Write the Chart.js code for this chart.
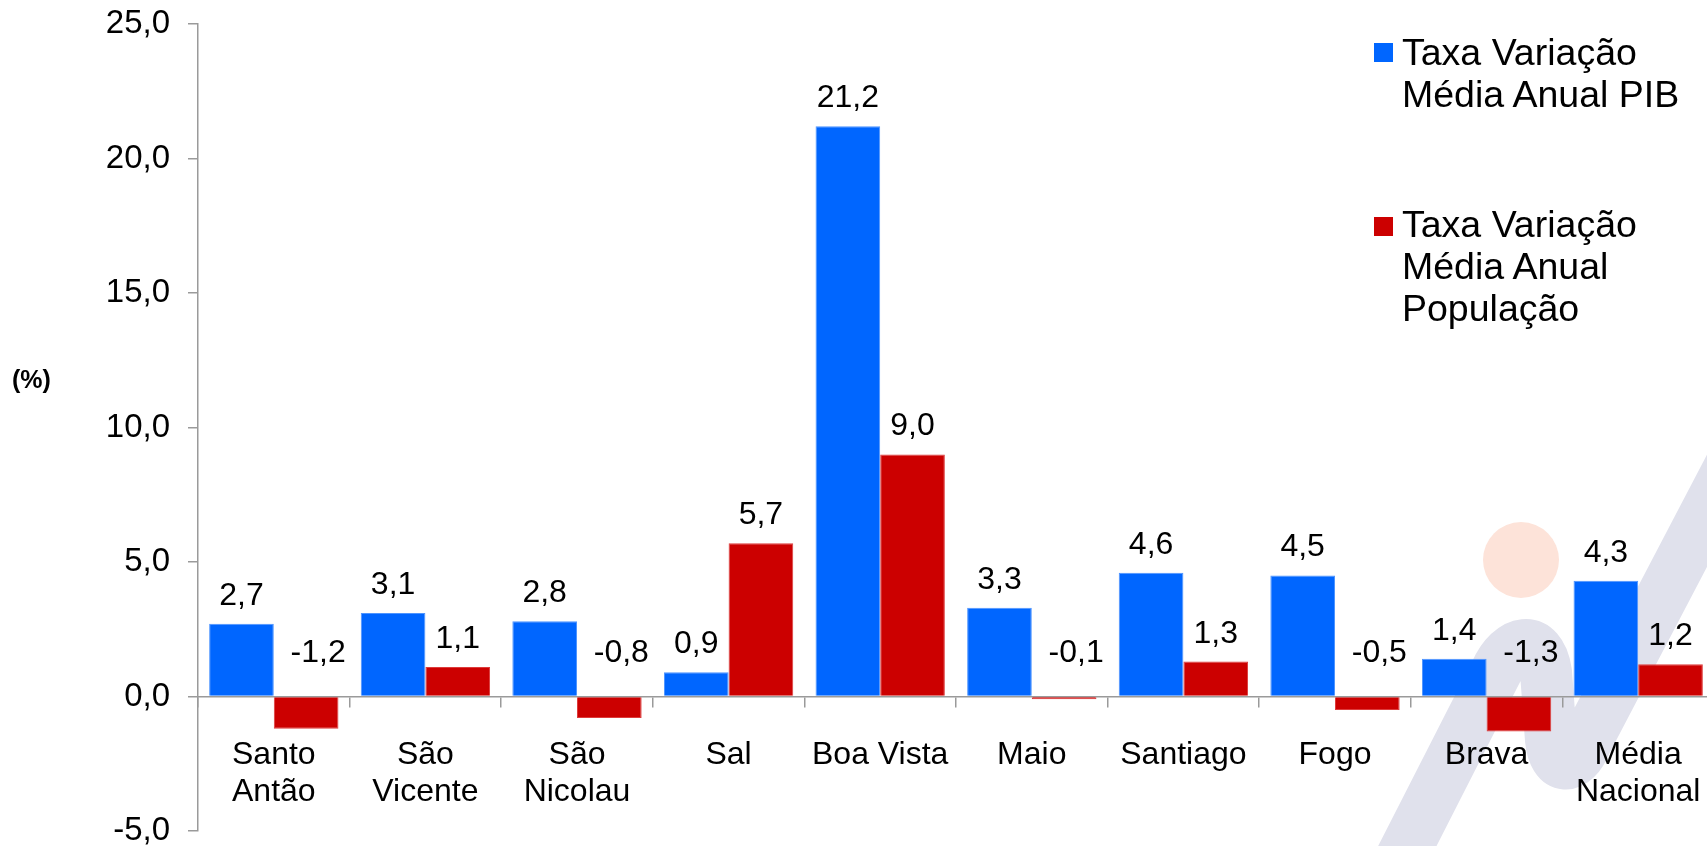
<!DOCTYPE html>
<html>
<head>
<meta charset="utf-8">
<script src="https://cdn.jsdelivr.net/npm/chart.js@4.4.1/dist/chart.umd.min.js"></script>
<style>
html,body{margin:0;padding:0;overflow:hidden;background:#fff;width:1707px;height:846px}
#wrap{position:absolute;left:0;top:0;width:1714px;height:846px}
#chart{display:block}
.fnt{font-family:'Liberation Sans',Arial,Helvetica,sans-serif;color:#000}
#ytitle{position:absolute;left:12px;top:367px;font-size:25px;font-weight:bold;line-height:25px;white-space:nowrap}
.leg{position:absolute;left:1374px;font-size:37.5px;line-height:42.3px}
.leg .sw{position:absolute;left:0;width:19px;height:19px}
.leg .tx{position:absolute;left:28px;top:0;white-space:nowrap}
</style>
</head>
<body>
<div id="wrap">
  <canvas id="chart" width="1714" height="846"></canvas>
  <div id="ytitle" class="fnt">(%)</div>
  <div id="legend"></div>
</div>
<script>
// ---- data ----
const categories = [['Santo','Antão'], ['São','Vicente'], ['São','Nicolau'], 'Sal', 'Boa Vista', 'Maio', 'Santiago', 'Fogo', 'Brava', ['Média','Nacional']];
const pibValues = [2.7, 3.1, 2.8, 0.9, 21.2, 3.3, 4.6, 4.5, 1.4, 4.3];
const popValues = [-1.2, 1.1, -0.8, 5.7, 9.0, -0.1, 1.3, -0.5, -1.3, 1.2];
const seriesNames = [['Taxa Variação', 'Média Anual PIB'], ['Taxa Variação', 'Média Anual', 'População']];
const yTickValues = [-5, 0, 5, 10, 15, 20, 25];

const FONT = "'Liberation Sans', Arial, Helvetica, sans-serif";
const BLUE = '#0066ff';
const RED = '#cc0000';
const AXIS = '#9a9a9a';
const fmt = v => v.toFixed(1).replace('.', ',');

// ---- legend (HTML, built from series names) ----
(function buildLegend(){
  const legend = document.getElementById('legend');
  const colors = [BLUE, RED];
  const tops = [30.9, 202.6];
  const swTops = [12.4, 14];
  seriesNames.forEach((lines, i) => {
    const item = document.createElement('div');
    item.className = 'leg fnt';
    item.style.top = tops[i] + 'px';
    const sw = document.createElement('div');
    sw.className = 'sw';
    sw.style.background = colors[i];
    sw.style.top = swTops[i] + 'px';
    const tx = document.createElement('div');
    tx.className = 'tx';
    tx.innerHTML = lines.join('<br>');
    item.appendChild(sw);
    item.appendChild(tx);
    legend.appendChild(item);
  });
})();

// ---- background watermark (decoration) ----
const watermark = {
  id: 'watermark',
  beforeDraw(chart) {
    const ctx = chart.ctx;
    ctx.save();
    ctx.fillStyle = '#ffffff';
    ctx.fillRect(0, 0, chart.width, chart.height);
    ctx.strokeStyle = '#e0e1ec';
    ctx.lineWidth = 52;
    ctx.lineJoin = 'round';
    ctx.lineCap = 'round';
    ctx.beginPath();
    ctx.moveTo(1390, 880);
    ctx.lineTo(1496, 672);
    ctx.bezierCurveTo(1510, 640, 1540, 632, 1546, 672);
    ctx.lineTo(1551, 740);
    ctx.bezierCurveTo(1554, 770, 1574, 772, 1586, 742);
    ctx.lineTo(1800, 333);
    ctx.stroke();
    ctx.fillStyle = '#fde3d9';
    ctx.beginPath();
    ctx.arc(1521, 560, 38, 0, Math.PI * 2);
    ctx.fill();
    ctx.restore();
  }
};

// ---- value labels ----
const valueLabels = {
  id: 'valueLabels',
  afterDatasetsDraw(chart) {
    const ctx = chart.ctx;
    const zero = chart.scales.y.getPixelForValue(0);
    ctx.save();
    ctx.font = '32px ' + FONT;
    ctx.fillStyle = '#000';
    ctx.textAlign = 'center';
    ctx.textBaseline = 'alphabetic';
    chart.data.datasets.forEach((ds, di) => {
      const meta = chart.getDatasetMeta(di);
      meta.data.forEach((bar, i) => {
        const v = ds.data[i];
        let x = bar.x, y;
        if (v >= 0) {
          y = bar.y - 19;
        } else {
          y = zero - 35;
          x = bar.x + 12;
        }
        ctx.fillText(fmt(v), x, y);
      });
    });
    ctx.restore();
  }
};

new Chart(document.getElementById('chart'), {
  type: 'bar',
  data: {
    labels: categories,
    datasets: [
      { label: seriesNames[0].join(' '), data: pibValues, backgroundColor: BLUE, borderColor: '#4d94ff', borderWidth: 1, categoryPercentage: 0.853, barPercentage: 1.0 },
      { label: seriesNames[1].join(' '), data: popValues, backgroundColor: RED, borderColor: '#dd3b3b', borderWidth: 1, categoryPercentage: 0.853, barPercentage: 1.0 }
    ]
  },
  options: {
    responsive: false,
    devicePixelRatio: 1,
    animation: false,
    layout: { padding: { top: 24, bottom: 15, left: 0, right: 0 } },
    plugins: { legend: { display: false }, tooltip: { enabled: false }, title: { display: false } },
    scales: {
      x: {
        position: { y: 0 },
        offset: true,
        afterFit: s => { s.paddingLeft = 0; s.paddingRight = 0; s.paddingTop = 0; s.paddingBottom = 0; },
        grid: { offset: true, drawOnChartArea: false, tickLength: 10, color: AXIS, lineWidth: 1.5 },
        border: { display: true, color: AXIS, width: 1.5 },
        ticks: { font: { size: 32, family: FONT, lineHeight: 1.15 }, color: '#000', padding: 30, maxRotation: 0, minRotation: 0, autoSkip: false }
      },
      y: {
        min: -5, max: 25,
        afterBuildTicks: s => { s.ticks = yTickValues.map(v => ({ value: v })); },
        afterFit: s => { s.width = 198; s.paddingTop = 0; s.paddingBottom = 0; s.paddingLeft = 0; s.paddingRight = 0; },
        grid: { drawOnChartArea: false, tickLength: 10, color: AXIS, lineWidth: 1.5 },
        border: { display: true, color: AXIS, width: 1.5 },
        ticks: { font: { size: 33, family: FONT }, color: '#000', padding: 18, callback: v => fmt(v) }
      }
    }
  },
  plugins: [watermark, valueLabels]
});
</script>
</body>
</html>
